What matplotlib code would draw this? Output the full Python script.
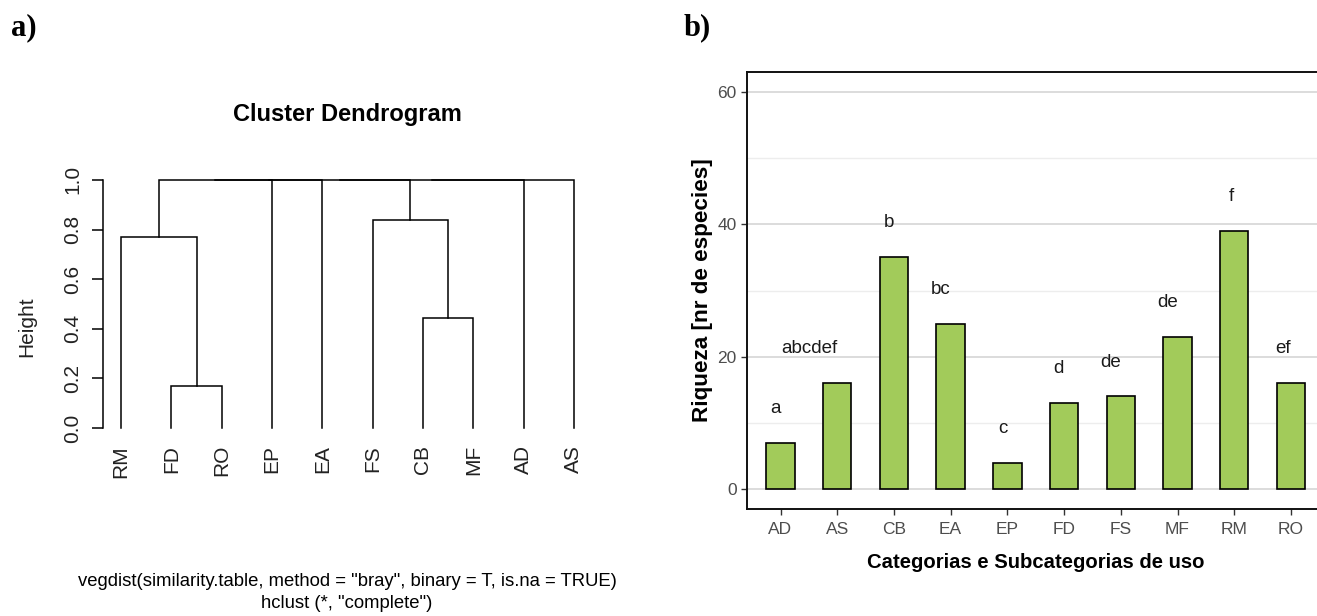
import matplotlib.pyplot as plt
from matplotlib.ticker import MultipleLocator

SANS = ['Liberation Sans', 'DejaVu Sans']
SERIF = ['Liberation Serif', 'DejaVu Serif']

# ---- dendrogram data (hclust, complete linkage) ----
leaves = ['RM', 'FD', 'RO', 'EP', 'EA', 'FS', 'CB', 'MF', 'AD', 'AS']
# (left, right, height); ints point to an earlier merge (1-based)
merges = [('FD', 'RO', 0.17), ('CB', 'MF', 0.445), ('RM', 1, 0.77),
          ('FS', 2, 0.84), (3, 'EP', 1.0), (5, 'EA', 1.0), (6, 4, 1.0),
          (7, 'AD', 1.0), (8, 'AS', 1.0)]
height_ticks = [0.0, 0.2, 0.4, 0.6, 0.8, 1.0]

# ---- bar chart data ----
categories = ['AD', 'AS', 'CB', 'EA', 'EP', 'FD', 'FS', 'MF', 'RM', 'RO']
riqueza = [7, 16, 35, 25, 4, 13, 14, 23, 39, 16]
letters = ['a', 'abcdef', 'b', 'bc', 'c', 'd', 'de', 'de', 'f', 'ef']

W, H = 1317, 616
fig = plt.figure(figsize=(W / 100, H / 100), dpi=100)


def fx(px):
    return px / W


def fy(py):
    return 1 - py / H


# ================= a) dendrogram =================
ax1 = fig.add_axes([fx(103), fy(438), fx(592) - fx(103), fy(170) - fy(438)])

pos = {name: (i + 1, 0.0) for i, name in enumerate(leaves)}


def node(ref):
    return pos[ref] if isinstance(ref, str) else pos[('m', ref)]


for k, (l, r, h) in enumerate(merges, start=1):
    xl, yl = node(l)
    xr, yr = node(r)
    ax1.plot([xl, xl, xr, xr], [yl, h, h, yr], color='black', lw=1.1,
             solid_joinstyle='miter')
    pos[('m', k)] = ((xl + xr) / 2, h)

ax1.set_xlim(0.64, len(leaves) + 0.36)
ax1.set_ylim(-0.04, 1.04)
for s in ['top', 'right', 'bottom']:
    ax1.spines[s].set_visible(False)
ax1.spines['left'].set_bounds(0, 1)
ax1.spines['left'].set_linewidth(1.1)
ax1.set_yticks(height_ticks)
ax1.set_yticklabels(['%.1f' % t for t in height_ticks], rotation=90,
                    va='center', family=SANS, size=15, color='#222222')
ax1.tick_params(axis='y', length=8, width=1.1, pad=7)
ax1.set_xticks(range(1, len(leaves) + 1))
ax1.set_xticklabels(leaves, rotation=90, family=SANS, size=15,
                    color='#222222')
ax1.tick_params(axis='x', length=0, pad=5)

fig.text(fx(27), fy(327), 'Height', rotation=90, ha='center', va='center',
         family=SANS, size=15, color='#222222')
fig.text(fx(347), fy(115), 'Cluster Dendrogram', ha='center', va='center',
         family=SANS, weight='bold', size=17)
fig.text(fx(347), fy(582),
         'vegdist(similarity.table, method = "bray", binary = T, is.na = TRUE)',
         ha='center', va='center', family=SANS, size=13.3)
fig.text(fx(347), fy(603), 'hclust (*, "complete")', ha='center', va='center',
         family=SANS, size=13.3)

# ================= b) bar chart =================
ax2 = fig.add_axes([fx(746.5), fy(509), fx(1325) - fx(746.5), fy(72) - fy(509)])
x = list(range(len(categories)))
ax2.bar(x, riqueza, width=0.5, color='#A2CB5A', edgecolor='black',
        linewidth=1.2, zorder=3)
for xi, v, lab in zip(x, riqueza, letters):
    ax2.text(xi, v + 5.2, lab, ha='right', va='center', family=SANS,
             size=13.5, color='#1a1a1a', zorder=4)

ax2.set_xlim(-0.6, len(categories) - 0.4)
ax2.set_ylim(-3, 63)
ax2.yaxis.set_major_locator(MultipleLocator(20))
ax2.yaxis.set_minor_locator(MultipleLocator(10))
ax2.grid(axis='y', which='major', color='#D9D9D9', lw=1.3, zorder=0)
ax2.grid(axis='y', which='minor', color='#EDEDED', lw=1.0, zorder=0)
ax2.set_xticks(x)
ax2.set_xticklabels(categories, family=SANS, size=12.5, color='#4D4D4D')
for t in ax2.get_yticklabels():
    t.set_family(SANS)
ax2.tick_params(axis='y', which='major', labelsize=12.5, labelcolor='#4D4D4D',
                length=4, width=1, color='#333333', pad=3)
ax2.tick_params(axis='y', which='minor', length=0)
ax2.tick_params(axis='x', length=4, width=1, color='#333333', pad=5)
for s in ['top', 'left', 'bottom', 'right']:
    ax2.spines[s].set_linewidth(1.4)
    ax2.spines[s].set_color('#111111')

ax2.set_xlabel('Categorias e Subcategorias de uso', family=SANS,
               weight='bold', size=14.6, labelpad=12)
fig.text(fx(703), fy(290), 'Riqueza [nr de especies]', rotation=90,
         ha='center', va='center', family=SANS, weight='bold', size=16.2)

# panel tags
fig.text(fx(11), fy(28), 'a)', ha='left', va='center',
         family=SERIF, weight='bold', size=22)
fig.text(fx(684), fy(28), 'b)', ha='left', va='center',
         family=SERIF, weight='bold', size=22)

fig.savefig('out.png', dpi=100)
